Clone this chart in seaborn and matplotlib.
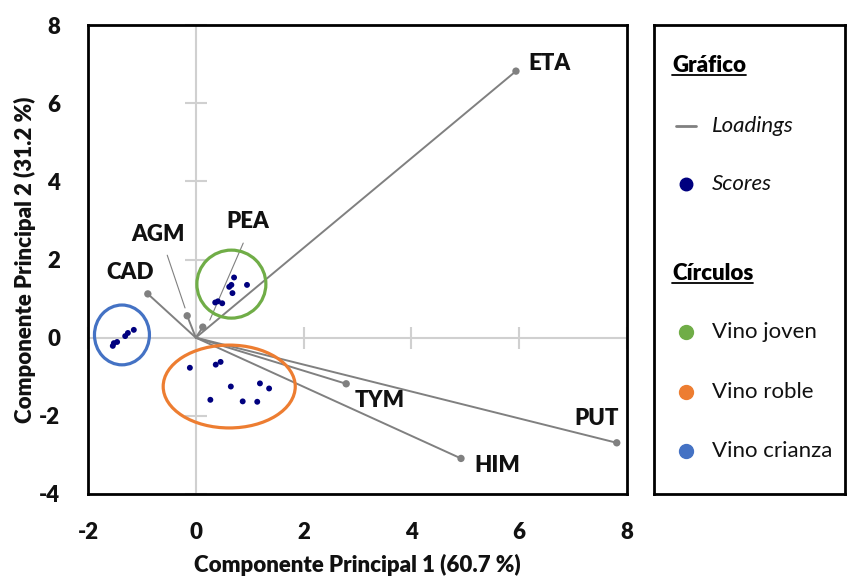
import matplotlib
matplotlib.use("Agg")
import matplotlib.pyplot as plt
from matplotlib.patches import Ellipse
import seaborn as sns
import pandas as pd
import numpy as np

# ---- data ----
loading_names = ["ETA", "PUT", "HIM", "TYM", "CAD", "AGM", "PEA"]
loading_x = [5.94, 7.81, 4.92, 2.79, -0.89, -0.16, 0.13]
loading_y = [6.82, -2.69, -3.09, -1.18, 1.12, 0.56, 0.27]

score_x = [-1.15, -1.26, -1.31, -1.46, -1.52, -1.54,
           -0.11, 0.37, 0.46, 0.65, 1.19, 1.36, 0.27, 0.87, 1.14,
           0.71, 0.62, 0.66, 0.68, 0.95, 0.36, 0.41, 0.49]
score_y = [0.20, 0.12, 0.04, -0.11, -0.14, -0.21,
           -0.77, -0.69, -0.62, -1.25, -1.17, -1.30, -1.59, -1.63, -1.64,
           1.54, 1.30, 1.35, 1.14, 1.35, 0.90, 0.93, 0.88]

group_names = ["Vino joven", "Vino roble", "Vino crianza"]
group_cx = [0.66, 0.62, -1.37]
group_cy = [1.37, -1.25, 0.07]
group_w = [1.28, 2.45, 1.02]
group_h = [1.74, 2.12, 1.53]

x_ticks = [-2, 0, 2, 4, 6, 8]
y_ticks = [-4, -2, 0, 2, 4, 6, 8]

# ---- style ----
sns.set_theme(style="white")
FONT = ["Lato", "DejaVu Sans"]
plt.rcParams["font.family"] = FONT

GREY = "#808080"
NAVY = "#00007f"
TXT = "#111111"
group_colors = ["#70ad47", "#ed7d31", "#4472c4"]

fig = plt.figure(figsize=(8.48, 5.79), dpi=100)
ax = fig.add_axes([88 / 848, 1 - 494 / 579, (627 - 88) / 848, (494 - 25) / 579])
ax.set_xlim(-2, 8)
ax.set_ylim(-4, 8)

# axes through origin
ax.axhline(0, color="#d0d0d0", lw=1.5, zorder=0)
ax.axvline(0, color="#d0d0d0", lw=1.5, zorder=0)
ax.plot([0] * len(y_ticks), y_ticks, ls="none", marker="_", ms=16, mew=1.5,
        color="#d0d0d0", zorder=0, clip_on=False)
ax.plot(x_ticks, [0] * len(x_ticks), ls="none", marker="|", ms=16, mew=1.5,
        color="#d0d0d0", zorder=0, clip_on=False)

# loadings
for lx, ly in zip(loading_x, loading_y):
    ax.plot([0, lx], [0, ly], color=GREY, lw=1.4, zorder=2)
sns.scatterplot(x=loading_x, y=loading_y, ax=ax, color=GREY, s=28,
                edgecolor="none", zorder=3, legend=False)

# scores
sns.scatterplot(x=score_x, y=score_y, ax=ax, color=NAVY, s=18,
                edgecolor="none", zorder=4, legend=False)

# group ellipses
for cx, cy, w, h, c in zip(group_cx, group_cy, group_w, group_h, group_colors):
    ax.add_patch(Ellipse((cx, cy), w, h, fill=False, ec=c, lw=2.3, zorder=5))

# loading labels
label_pos = {
    "ETA": (6.57, 7.02), "PUT": (7.44, -2.08), "HIM": (5.59, -3.26),
    "TYM": (3.42, -1.62), "CAD": (-1.22, 1.66), "AGM": (-0.70, 2.63),
    "PEA": (0.97, 2.98),
}
for name in loading_names:
    tx, ty = label_pos[name]
    ax.text(tx, ty, name, ha="center", va="center", fontsize=16,
            fontweight="heavy", color=TXT)
# leader lines
ax.plot([-0.53, -0.20], [2.11, 0.76], color=GREY, lw=0.8, zorder=2)
ax.plot([0.88, 0.26], [2.42, 0.45], color=GREY, lw=0.8, zorder=2)

ax.set_xticks(x_ticks)
ax.set_yticks(y_ticks)
ax.set_xticklabels([str(v) for v in x_ticks], fontsize=16, fontweight="heavy", color=TXT)
ax.set_yticklabels([str(v) for v in y_ticks], fontsize=16, fontweight="heavy", color=TXT)
ax.tick_params(axis="x", length=0, pad=20)
ax.tick_params(axis="y", length=0, pad=20)
ax.set_xlabel("Componente Principal 1 (60.7 %)", fontsize=16, fontweight="heavy",
              color=TXT)
ax.set_ylabel("Componente Principal 2 (31.2 %)", fontsize=16, fontweight="heavy",
              color=TXT)
ax.xaxis.set_label_coords(0.5, -0.128)
ax.yaxis.set_label_coords(-0.096, 0.5)
for sp in ax.spines.values():
    sp.set_color("black")
    sp.set_linewidth(2)
    sp.set_visible(True)

# legend box
lax = fig.add_axes([654 / 848, 1 - 494 / 579, (845 - 654) / 848, (494 - 25) / 579])
lax.set_xlim(0, 191)
lax.set_ylim(469, 0)
lax.set_xticks([])
lax.set_yticks([])
for sp in lax.spines.values():
    sp.set_color("black")
    sp.set_linewidth(2)

lax.text(18, 40, "Gráfico", fontsize=16, fontweight="heavy", va="center",
         ha="left", color="black")
lax.text(18, 248, "Círculos", fontsize=16, fontweight="heavy", va="center",
         ha="left", color="black")

lax.plot([22, 42], [101, 101], color=GREY, lw=2)
lax.text(58, 101, "Loadings", fontsize=16, style="italic", va="center", color=TXT)
lax.plot([32], [159], marker="o", ms=9, color=NAVY)
lax.text(58, 159, "Scores", fontsize=16, style="italic", va="center", color=TXT)
for y, name, c in zip([307, 367, 426], group_names, group_colors):
    lax.plot([32], [y], marker="o", ms=10, color=c)
    lax.text(58, y, name, fontsize=16, va="center", color=TXT)

# underline headings
fig.canvas.draw()
renderer = fig.canvas.get_renderer()
for t in lax.texts[:2]:
    bb = t.get_window_extent(renderer).transformed(lax.transData.inverted())
    x0, x1 = sorted([bb.x0, bb.x1])
    ylow = max(bb.y0, bb.y1) - 1
    lax.plot([x0, x1], [ylow, ylow], color="black", lw=1.3)

fig.savefig("out.png", dpi=100)
